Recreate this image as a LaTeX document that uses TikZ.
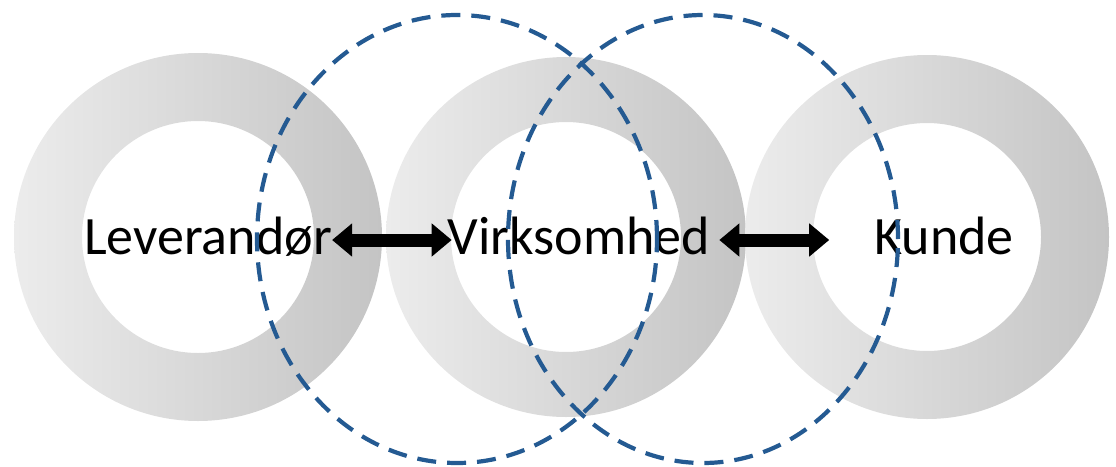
\documentclass[tikz,border=0pt]{standalone}
\usepackage{fontspec}
\setmainfont{Carlito}
\usetikzlibrary{arrows.meta}
\definecolor{ringL}{RGB}{236,236,236}
\definecolor{ringR}{RGB}{196,196,196}
\definecolor{dashblue}{RGB}{36,90,146}
\begin{document}
\begin{tikzpicture}[x=1pt,y=-1pt,
  ring/.style={left color=ringL,right color=ringR,even odd rule},
  lbl/.style={font=\fontsize{54}{64}\selectfont, inner sep=0pt, anchor=base},
  dblarrow/.style={line width=13pt, {Triangle[length=20pt,width=32pt]}-{Triangle[length=20pt,width=32pt]}},
  zone/.style={draw=dashblue, line width=4.2pt, dash pattern=on 19pt off 11pt}]
\useasboundingbox (0,0) rectangle (1116,466);
% rings
\shade[ring] (198,237) circle (184pt) (198,237) circle (116pt);
\shade[ring] (566,237) circle (180pt) (566,237) circle (115pt);
\shade[ring] (927,237) circle (182pt) (927,237) circle (114pt);
% labels
\node[lbl] (lev) at (208,254) {Leverandør};
\node[lbl] (virk) at (579,254) {Virksomhed};
\node[lbl] (kunde) at (944,254) {Kunde};
% arrows
\draw[dblarrow, shorten <=0pt, shorten >=-4pt] ([yshift=14pt]lev.base east) -- ([yshift=14pt]virk.base west);
\draw[dblarrow, shorten <=9pt, shorten >=45pt] ([yshift=14pt]virk.base east) -- ([yshift=14pt]kunde.base west);
% dashed zones
\draw[zone] (457,239) ellipse (200pt and 224pt);
\draw[zone] (703,239) ellipse (195pt and 224pt);
\end{tikzpicture}
\end{document}
